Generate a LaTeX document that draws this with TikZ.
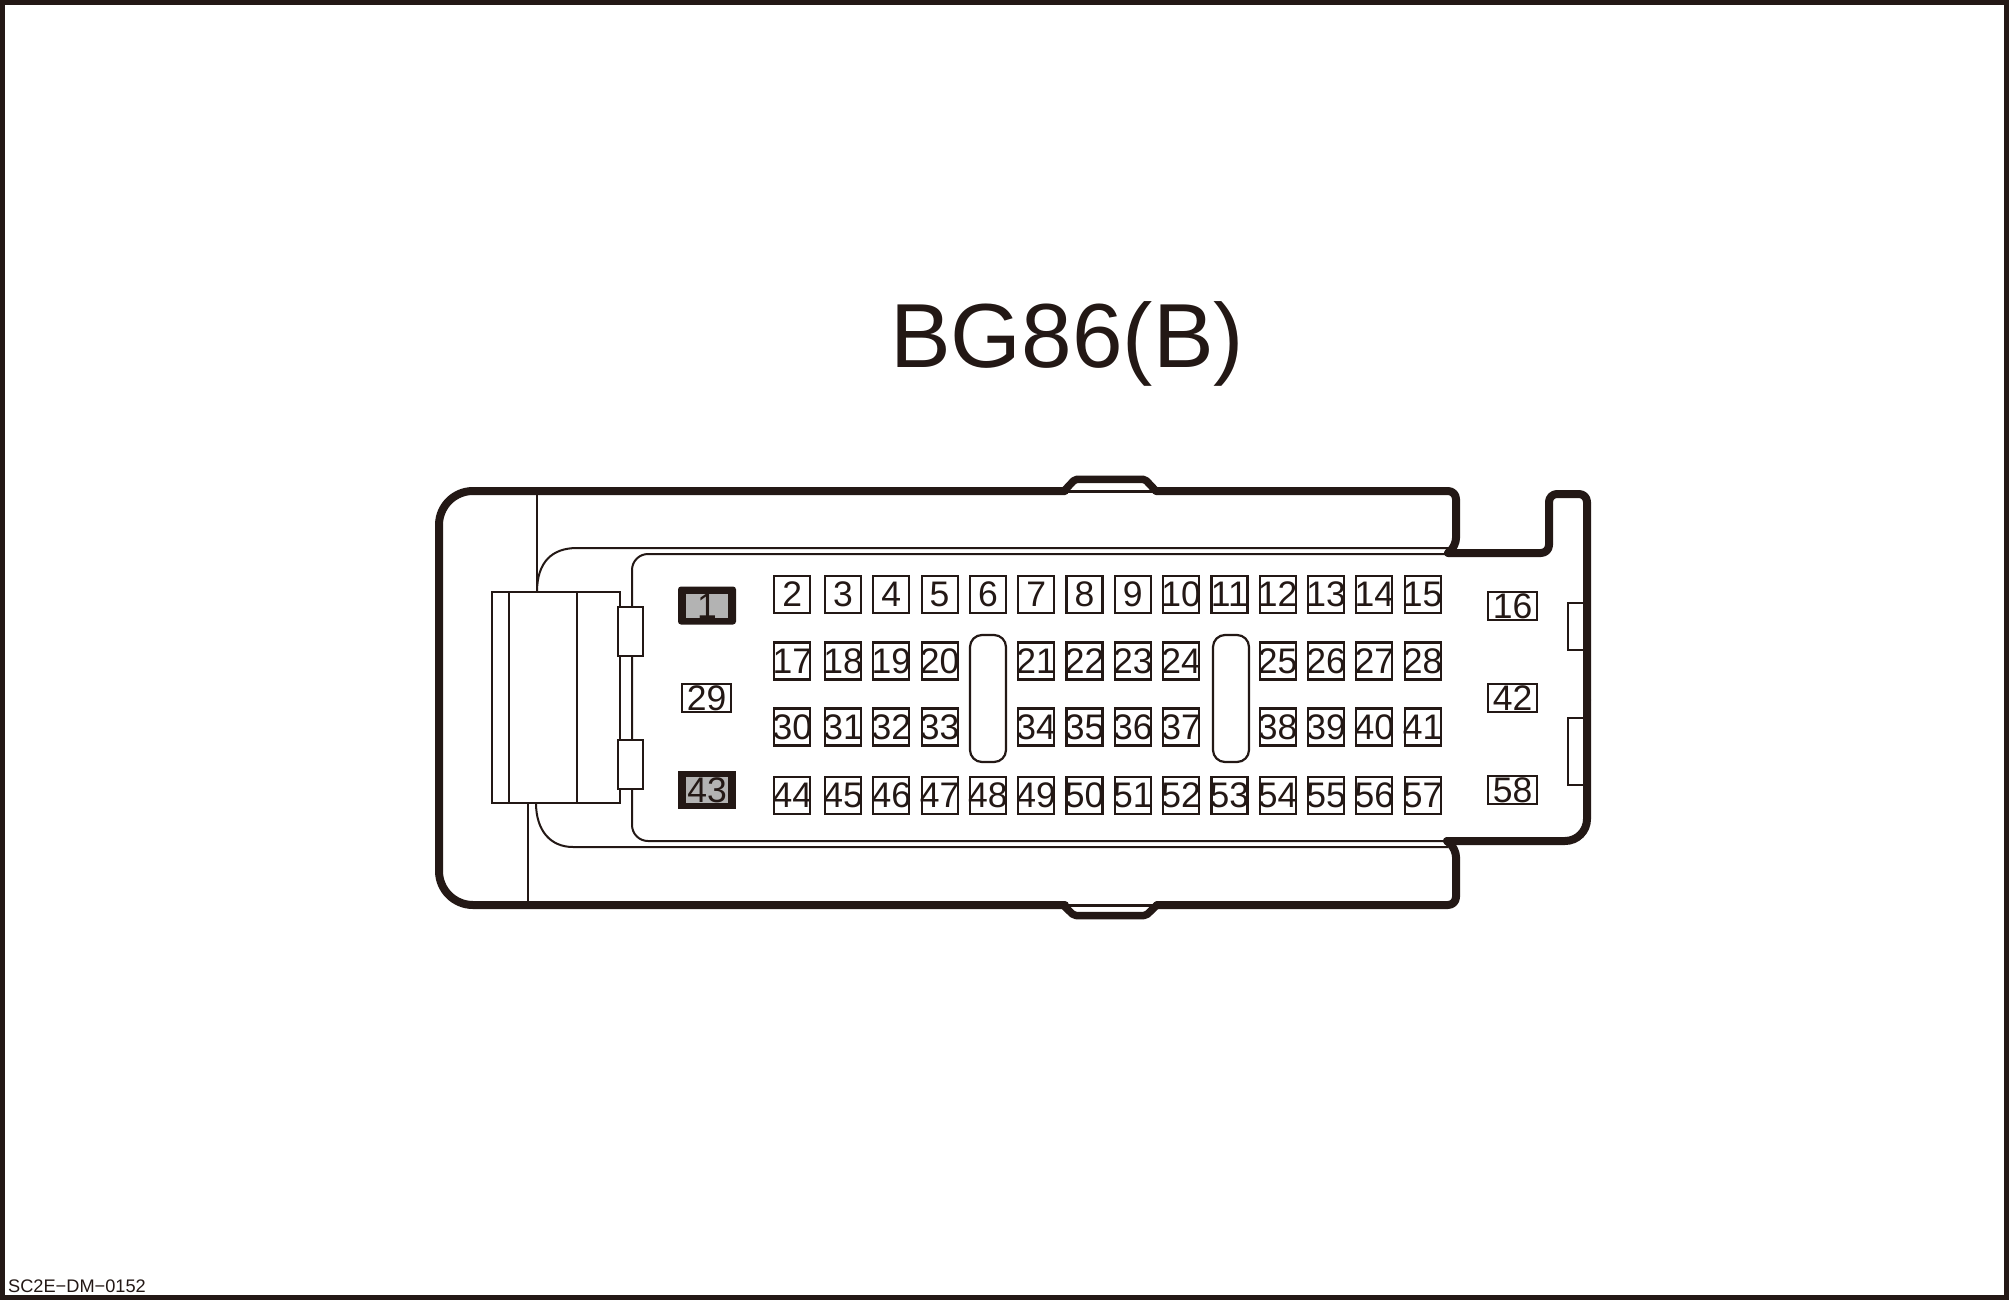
\documentclass[tikz,border=0pt]{standalone}
\usepackage{fontspec}
\setmainfont{Liberation Sans}
\definecolor{ink}{HTML}{231815}
\definecolor{pingray}{HTML}{B3B3B3}
\newcommand\pinnum[1]{\makebox[0pt][c]{#1}}
\tikzset{
  thick line/.style={draw=ink,line width=8pt,line cap=round,line join=round},
  thin line/.style={draw=ink,line width=2pt},
  part/.style={draw=ink,line width=2pt,fill=white},
  pinbox/.style={draw=ink,line width=2.2pt,fill=white,inner sep=0pt,minimum width=36pt,minimum height=37pt,text=ink,font=\fontsize{35.5}{35.5}\selectfont},
  widepin/.style={draw=ink,line width=2.2pt,fill=white,inner sep=0pt,minimum width=49pt,minimum height=28.5pt,text=ink,font=\fontsize{35.5}{35.5}\selectfont},
  blackpin/.style={draw=none,fill=ink,inner sep=0pt,minimum width=58pt,minimum height=38pt},
  graypin/.style={draw=none,fill=pingray,inner sep=0pt,minimum width=42pt,minimum height=22pt,text=ink,font=\fontsize{35.5}{35.5}\selectfont},
  slot/.style={draw=ink,line width=2.2pt,fill=white,rounded corners=12pt}
}
\begin{document}
\begin{tikzpicture}[x=1pt,y=-1pt]
\useasboundingbox (0,0) rectangle (2009,1300);
\fill[white] (0,0) rectangle (2009,1300);
\draw[ink,line width=4.8pt] (2.2,2.2) rectangle (2006.3,1297.5);
% title and footer
\node[anchor=base,inner sep=0pt,text=ink,font=\fontsize{91}{91}\selectfont] (title) at (1067,367.5) {BG86(B)};
\node[anchor=base west,inner sep=0pt,text=ink,font=\fontsize{18.2}{18.2}\selectfont] (footer) at (8,1292.5) {SC2E−DM−0152};
% inner thin lines
\draw[thin line] (537,491) -- (537,592);
\draw[thin line] (528,803) -- (528,905);
\draw[thin line] (537,592) .. controls (537,562) and (552,548) .. (577,548) -- (1448,548);
\draw[thin line] (536,803) .. controls (536,830) and (550,847) .. (573,847) -- (1448,847);
\draw[thin line,rounded corners=16pt] (1448,554) -- (632,554) -- (632,841) -- (1448,841);
% left block
\draw[part] (491.8,592) rectangle (620,803);
\draw[thin line] (509,592) -- (509,803);
\draw[thin line] (577,592) -- (577,803);
\draw[part] (617.5,606.5) rectangle (643,656);
\draw[part] (617.5,740) rectangle (643,789);
% right side small rectangles
\draw[part] (1567.5,602.5) rectangle (1587,650);
\draw[part] (1567.5,717.5) rectangle (1587,785);
% outer contour
\draw[thick line,rounded corners=34pt] (1065,491) -- (439,491) -- (439,905) -- (1065,905);
\draw[thick line,rounded corners=2pt,line width=7.5pt] (1064,491) -- (1075,479.3) -- (1145,479.3) -- (1156,491);
\draw[thick line,rounded corners=2pt,line width=7.5pt] (1063,905) -- (1074,915.5) -- (1146,915.5) -- (1157,905);
\draw[thin line,line width=3pt] (1064,491) -- (1156,491);
\draw[thin line,line width=3pt] (1063,905) -- (1157,905);
\draw[thick line,rounded corners=8pt] (1156,491) -- (1456,491) -- (1456,546) -- (1448,553);
\draw[thick line,rounded corners=8pt] (1448,553) -- (1549,553) -- (1549,494) -- (1587,494) -- (1587,700);
\draw[thick line,rounded corners=22pt] (1587,700) -- (1587,841) -- (1447,841);
\draw[thick line,rounded corners=8pt] (1447,841) -- (1456,849) -- (1456,905) -- (1157,905);
% slots
\node[slot,minimum width=36pt,minimum height=127pt,inner sep=0pt] (slotA) at (988,698.5) {};
\node[slot,minimum width=36pt,minimum height=127pt,inner sep=0pt] (slotB) at (1231,698.5) {};
% pins
\node[pinbox] (p2) at (792.3,594.5) {\pinnum{2}};
\foreach \n in {3,...,15} \node[pinbox] (p\n) at ({843+(\n-3)*48.3},594.5) {\pinnum{\n}};
\node[pinbox] (p17) at (792.3,661) {\pinnum{17}};
\foreach \n in {18,19,20} \node[pinbox] (p\n) at ({843+(\n-18)*48.3},661) {\pinnum{\n}};
\foreach \n in {21,...,24} \node[pinbox] (p\n) at ({843+(\n-17)*48.3},661) {\pinnum{\n}};
\foreach \n in {25,...,28} \node[pinbox] (p\n) at ({843+(\n-16)*48.3},661) {\pinnum{\n}};
\node[pinbox] (p30) at (792.3,727) {\pinnum{30}};
\foreach \n in {31,32,33} \node[pinbox] (p\n) at ({843+(\n-31)*48.3},727) {\pinnum{\n}};
\foreach \n in {34,...,37} \node[pinbox] (p\n) at ({843+(\n-30)*48.3},727) {\pinnum{\n}};
\foreach \n in {38,...,41} \node[pinbox] (p\n) at ({843+(\n-29)*48.3},727) {\pinnum{\n}};
\node[pinbox] (p44) at (792.3,795.5) {\pinnum{44}};
\foreach \n in {45,...,57} \node[pinbox] (p\n) at ({843+(\n-45)*48.3},795.5) {\pinnum{\n}};
\node[widepin] (p29) at (706.5,698) {29};
\node[widepin] (p16) at (1512.5,606) {16};
\node[widepin] (p42) at (1512.5,698) {42};
\node[widepin] (p58) at (1512.5,790) {58};
\node[blackpin,rounded corners=3pt] (p1back) at (707,605.5) {};
\node[graypin] (p1) at (707,606) {1};
\node[blackpin] (p43back) at (707,790) {};
\node[graypin] (p43) at (707,790) {43};
\end{tikzpicture}
\end{document}
